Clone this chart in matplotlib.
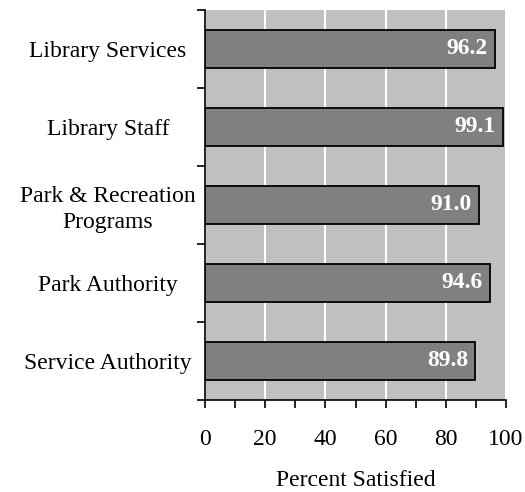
import matplotlib.pyplot as plt
from matplotlib.ticker import MultipleLocator, FixedLocator

categories = ["Library Services", "Library Staff", "Park & Recreation\nPrograms",
              "Park Authority", "Service Authority"]
values = [96.2, 99.1, 91.0, 94.6, 89.8]

plt.rcParams["font.family"] = ["Liberation Serif", "DejaVu Serif"]

fig = plt.figure(figsize=(5.25, 4.92), dpi=100)
ax = fig.add_axes([0.3905, 0.187, 0.5733, 0.7927])

n = len(categories)
ypos = list(range(n))[::-1]
ax.set_facecolor("#C0C0C0")
ax.barh(ypos, values, height=0.49, color="#808080", edgecolor="black", linewidth=1.3, zorder=3)

for y, v in zip(ypos, values):
    ax.text(v - 2.4, y, f"{v:.1f}", ha="right", va="center", color="white",
            fontsize=17, fontweight="bold", zorder=4)

ax.set_xlim(0, 100)
ax.set_ylim(-0.5, n - 0.5)
ax.xaxis.set_major_locator(MultipleLocator(20))
ax.xaxis.set_minor_locator(MultipleLocator(10))
ax.grid(axis="x", which="major", color="white", linewidth=1.5, zorder=1)

ax.set_yticks(ypos)
ax.set_yticklabels(categories, fontsize=17, ha="center", linespacing=1.3)
ax.yaxis.set_minor_locator(FixedLocator([i - 0.5 for i in range(n + 1)]))
ax.tick_params(axis="y", which="major", length=0, pad=70)
ax.tick_params(axis="y", which="minor", length=6, width=1.2, direction="out")
ax.tick_params(axis="x", which="both", length=6, width=1.2, direction="out", labelsize=17, pad=15)

for s in ("top", "right"):
    ax.spines[s].set_visible(False)
for s in ("left", "bottom"):
    ax.spines[s].set_linewidth(1.2)

ax.set_xlabel("Percent Satisfied", fontsize=17, labelpad=14)

fig.savefig("out.png", dpi=100)
